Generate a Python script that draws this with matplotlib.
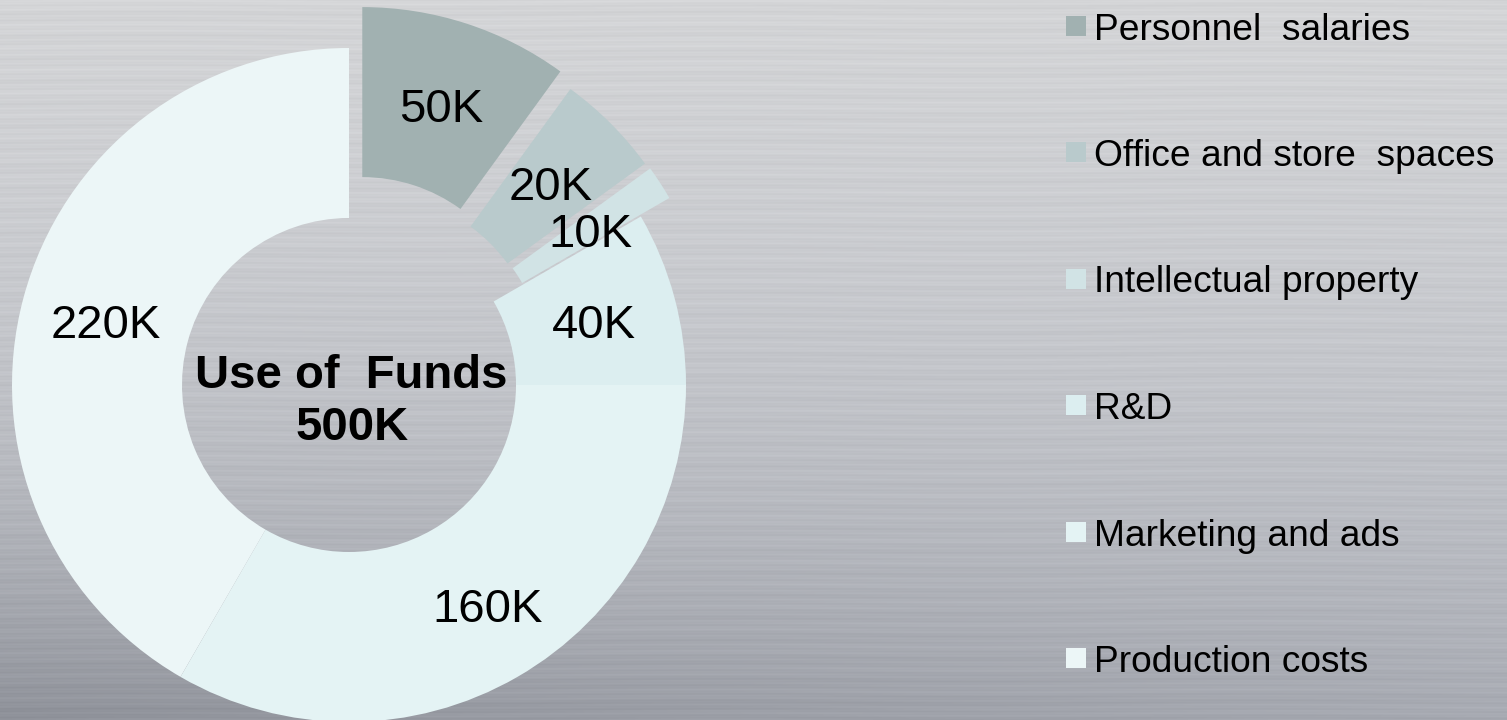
import numpy as np
import matplotlib
matplotlib.use('Agg')
import matplotlib.pyplot as plt
from matplotlib.patches import Rectangle

plt.rcParams['font.family'] = ['Liberation Sans', 'DejaVu Sans']

# data
categories = ['Personnel  salaries', 'Office and store  spaces', 'Intellectual property',
              'R&D', 'Marketing and ads', 'Production costs']
value_labels = ['50K', '20K', '10K', '40K', '160K', '220K']
# size of each slice as drawn in the ring (degrees)
slice_deg = [36, 18, 6, 30, 120, 150]
total_text = 'Use of  Funds\n500K'

colors = ['#a1b1b1', '#b9cacc', '#d1e3e5', '#dceef0', '#e4f3f4', '#ecf6f7']
explode = [43, 33, 34, 0, 0, 0]

W, H = 1507, 720
fig = plt.figure(figsize=(W / 100, H / 100), dpi=100)
ax = fig.add_axes([0, 0, 1, 1])

# brushed metal background
yy, xx = np.mgrid[0:H, 0:W].astype(float)
t = yy / H
v = 212 - 25 * t - 45 * t ** 3 + 25 * (xx / W) * t ** 3
streak = (2.5 * np.sin(0.83 * yy + 1.5 * np.sin(xx / 90.0))
          + 1.8 * np.sin(2.1 * yy + 0.8 * np.sin(xx / 140.0 + 1.0))
          + 1.5 * np.sin(0.29 * yy + xx / 400.0))
bg = np.dstack([v + streak, v + streak + 1 + 2 * t, v + streak + 3 + 8 * t])
bg = np.clip(bg / 255.0, 0, 1)
ax.imshow(bg, extent=[0, W, H, 0], zorder=0, aspect='auto')

# donut (y axis runs downward, so start at -90 and go counterclock in data = clockwise on screen)
cx, cy, r = 349, 385, 337
wedges, _ = ax.pie(slice_deg, colors=colors, explode=explode, startangle=-90,
                   counterclock=True, center=(cx, cy), radius=r,
                   wedgeprops=dict(width=170, edgecolor='none'))
for w in wedges:
    w.set_zorder(2)

label_xy = [(441, 122), (551, 200), (590, 247), (594, 338), (488, 622), (106, 338)]
for (x, y), s in zip(label_xy, value_labels):
    ax.text(x, y, s, ha='center', va='baseline', fontsize=34, color='black', zorder=3)

title_lines = total_text.split('\n')
ax.text(351, 388, title_lines[0], ha='center', va='baseline', fontsize=34,
        fontweight='bold', zorder=3)
ax.text(352, 440, title_lines[1], ha='center', va='baseline', fontsize=34,
        fontweight='bold', zorder=3)

# legend on the right
for i, (name, c) in enumerate(zip(categories, colors)):
    yb = 39.5 + 126.5 * i
    ax.add_patch(Rectangle((1066, yb - 24), 20, 20, facecolor=c, edgecolor='none', zorder=3))
    ax.text(1094, yb, name, ha='left', va='baseline', fontsize=26.7, color='black', zorder=3)

ax.set_xlim(0, W)
ax.set_ylim(H, 0)
ax.set_aspect('auto')
ax.axis('off')

fig.savefig('out.png', dpi=100)
